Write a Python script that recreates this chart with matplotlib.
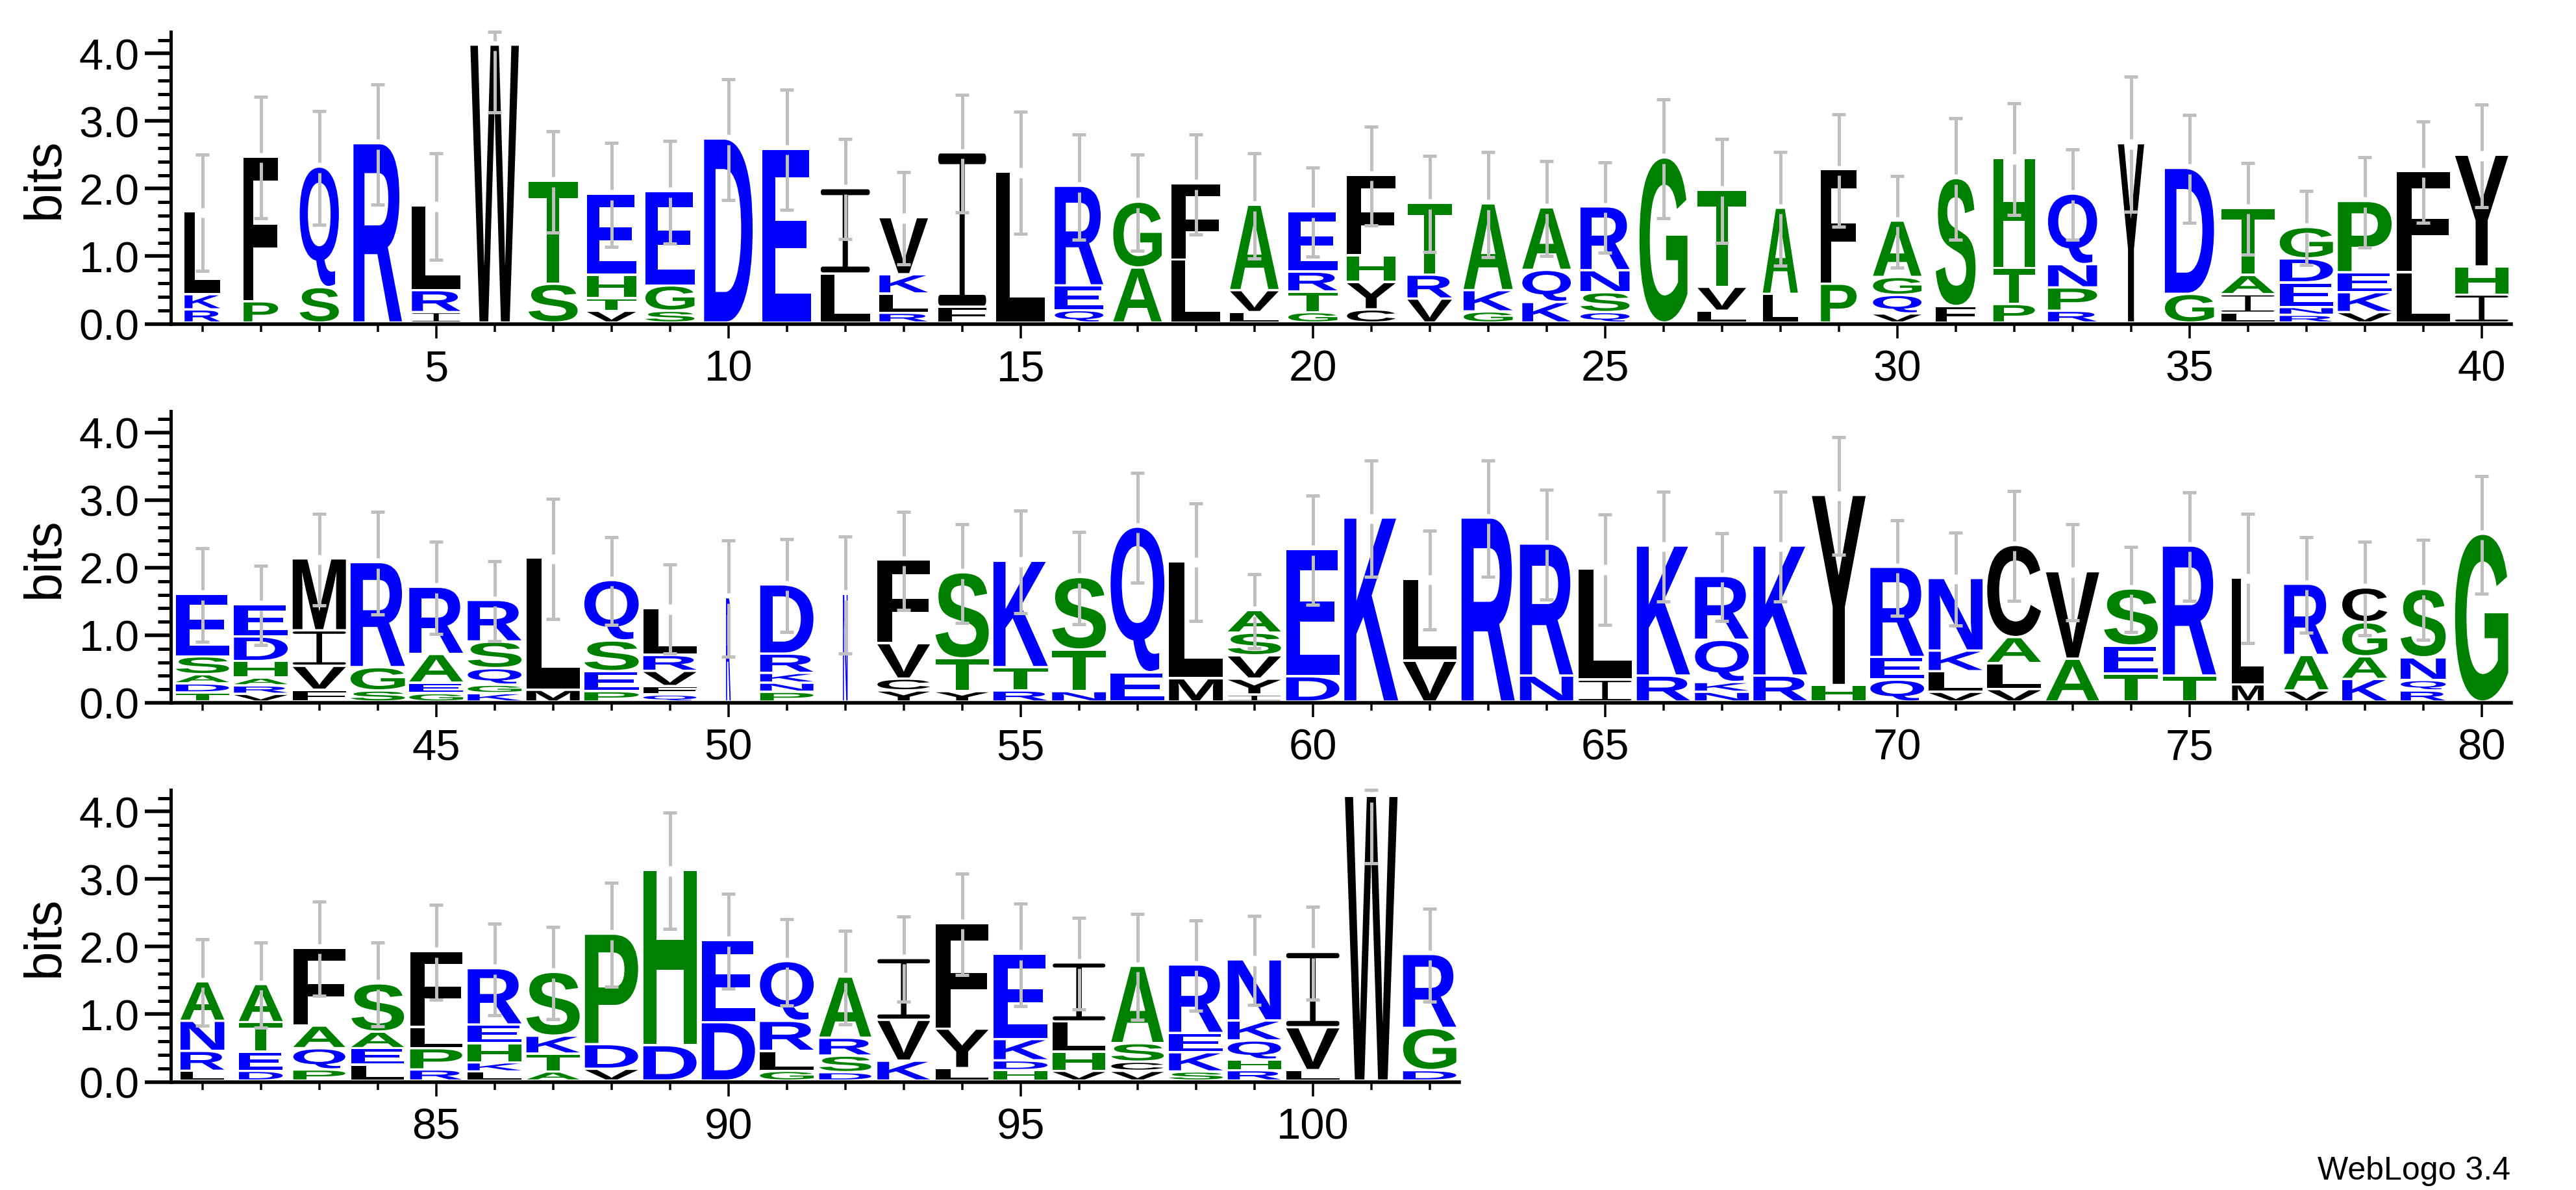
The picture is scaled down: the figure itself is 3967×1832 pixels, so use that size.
import matplotlib
matplotlib.use("Agg")
import matplotlib.pyplot as plt
from matplotlib.font_manager import FontProperties
from matplotlib.patches import PathPatch
from matplotlib.path import Path
from matplotlib.textpath import TextPath
from matplotlib.ticker import MultipleLocator, FormatStrFormatter
from matplotlib.transforms import Affine2D

plt.rcParams['font.family'] = ['Liberation Sans', 'DejaVu Sans']

# letters bottom to top for each position
row1_letters = ["RKL", "PF", "SQ", "R", "IRL", "W", "ST", "VTHE", "SGE", "D",
                "E", "LI", "RLKV", "FI", "L", "QER", "AG", "LF", "LVA", "GTRE",
                "CYHF", "VRT", "GKA", "KQA", "QSNR", "G", "LVT", "LA", "PF", "VQGA",
                "FS", "PTH", "RPNQ", "Y", "GD", "LIAT", "RNEDG", "VKEP", "LF", "IHY"]
row1_heights = [[.16, .19, 1.19], [.28, 2.11], [.49, 1.75], [2.62], [.12, .29, 1.22],
                [4.08], [.54, 1.49], [.14, .15, .31, 1.17], [.14, .34, 1.36], [2.69],
                [2.54], [.69, 1.23], [.11, .25, .25, .81], [.20, 2.25], [2.20],
                [.15, .33, 1.44], [.78, .94], [.90, 1.09], [.12, .29, 1.23], [.12, .27, .26, .86],
                [.16, .37, .36, 1.16], [.32, .32, 1.03], [.13, .28, 1.25], [.27, .44, .89], [.12, .26, .29, .91],
                [2.41], [.14, .32, 1.40], [.39, 1.24], [.54, 1.66], [.10, .24, .23, .80],
                [.21, 1.86], [.24, .50, 1.59], [.14, .31, .31, 1.01], [2.62], [.39, 1.83],
                [.11, .24, .25, .96], [.08, .08, .33, .32, .43], [.12, .26, .26, 1.02], [.71, 1.46], [.38, .38, 1.62]]
row1_widths = [.61, .59, .67, .83, .83, .83, .84, .84, .84, .83,
               .83, .84, .83, .82, .83, .83, .83, .83, .83, .84,
               .83, .76, .84, .83, .84, .82, .83, .60, .61, .83,
               .68, .71, .84, .45, .84, .91, .91, .92, .91, .91]
row1_errors = [.86, .90, .84, .89, .79, .99, .75, .77, .76, .89,
               .89, .74, .68, .87, .90, .78, .71, .74, .78, .66,
               .73, .71, .78, .70, .67, .88, .77, .84, .83, .68,
               .90, .83, .67, 1.00, .80, .68, .55, .67, .75, .76]

row2_letters = ["TDASE", "VRAHDE", "FVIM", "SGR", "GEAR", "KGQSR", "ML", "PESQ", "QFVRL", "R",
                "PNKRD", "N", "YCVF", "YTS", "RTK", "NTS", "EQ", "ML", "IYVSA", "DE",
                "K", "VL", "R", "NR", "IL", "RK", "NKQR", "RK", "HY", "QER",
                "VLKN", "VLAC", "AV", "TES", "TR", "ML", "VAR", "KAGC", "RQNS", "G"]
row2_heights = [[.10, .10, .10, .23, .89], [.08, .09, .08, .21, .33, .44], [.14, .32, .49, 1.03], [.13, .31, 1.52], [.09, .12, .39, .96],
                [.09, .09, .21, .36, .58], [.14, 1.92], [.12, .26, .42, .86], [.07, .09, .19, .20, .66], [1.51],
                [.11, .10, .11, .25, .99], [1.56], [.13, .14, .49, 1.20], [.12, .45, 1.24], [.13, .31, 1.54],
                [.12, .58, 1.04], [.40, 2.12], [.31, 1.70], [.07, .20, .31, .30, .30], [.34, 1.85],
                [2.69], [.57, 1.18], [2.69], [.35, 1.92], [.29, 1.61],
                [.35, 1.89], [.11, .11, .59, .91], [.35, 1.89], [.21, 2.78], [.29, .30, 1.30],
                [.11, .27, .27, 1.04], [.15, .35, .35, 1.33], [.60, 1.26], [.38, .38, .81], [.35, 1.89],
                [.22, 1.55], [.13, .49, 1.02], [.30, .30, .47, .48], [.13, .12, .30, .98], [2.45]]
row2_widths = [.91, .92, .91, .93, .92, .92, .91, .93, .91, .08,
               .91, .08, .90, .91, .93, .92, .92, .92, .91, .91,
               .92, .91, .91, .91, .91, .91, .92, .92, .92, .92,
               .92, .92, .91, .92, .91, .54, .76, .77, .77, .91]
row2_errors = [.69, .59, .68, .76, .68, .59, .89, .65, .66, .86,
               .69, .87, .73, .73, .76, .68, .81, .87, .55, .81,
               .86, .73, .86, .81, .82, .81, .65, .81, .87, .71,
               .69, .81, .71, .63, .80, .96, .71, .69, .74, .87]

row3_letters = ["LRNA", "DETA", "PQAF", "LEAS", "RPLF", "LKHER", "ATKS", "VDP", "DH", "DE",
                "GLRQ", "DSRA", "KVI", "LYF", "HDKE", "VHLI", "VCSA", "SKER", "RHQKN", "LVI",
                "W", "DGR"]
row3_heights = [[.11, .26, .41, .55], [.11, .25, .40, .53], [.13, .28, .30, 1.12], [.20, .21, .21, .68], [.13, .28, .28, 1.09],
                [.10, .10, .25, .24, .80], [.10, .23, .23, .91], [.14, .33, 1.60], [.49, 2.56], [.83, 1.18],
                [.11, .26, .41, .85], [.09, .21, .23, .87], [.26, .57, .88], [.15, .55, 1.53], [.12, .11, .28, 1.23],
                [.11, .25, .41, .84], [.11, .10, .24, 1.11], [.10, .25, .25, .98], [.12, .12, .25, .26, .87], [.12, .60, 1.08],
                [4.18], [.12, .59, 1.06]]
row3_widths = [.75, .75, .89, .90, .89, .92, .91, .91, .91, .91,
               .92, .89, .90, .90, .92, .90, .90, .92, .91, .91,
               .90, .91]
row3_errors = [.64, .63, .70, .62, .70, .68, .68, .77, .86, .70,
               .64, .69, .63, .75, .76, .68, .78, .67, .66, .69,
               .98, .69]

black_letters = "FLIVWMYC"
green_letters = "GSTAPH"
blue_letters = "DEKRQN"

BLUE = '#0000ff'
GREEN = '#008000'
BLACK = '#000000'
GREY = '#bfbfbf'

DPI = 100
W, H = 3967, 1833
BITS_MAX = 4.32
PX_PER_POS = 90.0
BOX_H = 449.3
AXIS_LEFT = 266.7
BASE = 0.036  # letters sit a little above the axis line
GAP = 0.035   # white space between stacked letters
ERR_GAP = 0.075

bold = FontProperties(family='Liberation Sans', weight='bold')


def px(p):  # pixels to points
    return p * 72.0 / DPI


def letter_colour(ch):
    if ch in green_letters:
        return GREEN
    if ch in blue_letters:
        return BLUE
    return BLACK


def i_path():
    # the I of the logo font has thin round ended bars, so it is drawn by hand
    rx, ry, bar, st = 0.045, 0.035, 0.07, 0.053
    verts = [(rx, 0), (1 - rx, 0), (1, 0), (1, ry), (1, bar), (1 - rx, bar),
             (.5 + st, bar), (.5 + st, 1 - bar), (1 - rx, 1 - bar), (1, 1 - bar), (1, 1 - ry), (1, 1), (1 - rx, 1),
             (rx, 1), (0, 1), (0, 1 - ry), (0, 1 - bar), (rx, 1 - bar),
             (.5 - st, 1 - bar), (.5 - st, bar), (rx, bar), (0, bar), (0, ry), (0, 0), (rx, 0), (rx, 0)]
    codes = [Path.MOVETO, Path.LINETO, Path.CURVE3, Path.CURVE3, Path.CURVE3, Path.CURVE3,
             Path.LINETO, Path.LINETO, Path.LINETO, Path.CURVE3, Path.CURVE3, Path.CURVE3, Path.CURVE3,
             Path.LINETO, Path.CURVE3, Path.CURVE3, Path.CURVE3, Path.CURVE3,
             Path.LINETO, Path.LINETO, Path.LINETO, Path.CURVE3, Path.CURVE3, Path.CURVE3, Path.CURVE3, Path.CLOSEPOLY]
    return Path(verts, codes)


def draw_letter(ax, ch, x, y, w, h):
    if ch == 'I':
        p = i_path()
        tr = Affine2D().scale(w, h).translate(x - w / 2, y)
    else:
        p = TextPath((0, 0), ch, size=100, prop=bold)
        bb = p.get_extents()
        tr = (Affine2D().translate(-bb.x0, -bb.y0)
              .scale(w / bb.width, h / bb.height)
              .translate(x - w / 2, y))
    ax.add_patch(PathPatch(p, transform=tr + ax.transData, fc=letter_colour(ch), ec='none', lw=0, zorder=3))


def draw_row(y0, first, letters, heights, widths, errors):
    n = len(letters)
    width_px = n * PX_PER_POS
    ax = fig.add_axes([AXIS_LEFT / W, 1 - y0 / H, width_px / W, BOX_H / H])
    ax.set_xlim(first - 0.5, first + n - 0.5)
    ax.set_ylim(0, BITS_MAX)

    for i in range(n):
        pos = first + i
        y = BASE
        hs = heights[i]
        for ch, h in zip(letters[i], hs):
            draw_letter(ax, ch, pos, y, widths[i], h)
            y += h + GAP
        top = y - GAP
        hi = min(top + errors[i], BITS_MAX)
        lo = top - errors[i]
        # error bar is broken just around the stack top
        ax.vlines(pos, top + ERR_GAP, hi, color=GREY, lw=px(5), zorder=4, clip_on=False, capstyle='butt')
        ax.vlines(pos, lo, top - ERR_GAP, color=GREY, lw=px(5), zorder=4, clip_on=False, capstyle='butt')
        for c in (lo, hi):
            ax.hlines(c, pos - 0.117, pos + 0.117, color=GREY, lw=px(5), zorder=4, clip_on=False, capstyle='butt')

    for s in ['top', 'right']:
        ax.spines[s].set_visible(False)
    ax.spines['left'].set_position(('outward', px(4)))
    ax.spines['left'].set_linewidth(px(5))
    ax.spines['bottom'].set_linewidth(px(5.5))
    ax.spines['bottom'].set_zorder(5)

    ax.yaxis.set_major_locator(MultipleLocator(1.0))
    ax.yaxis.set_minor_locator(MultipleLocator(0.2))
    ax.yaxis.set_major_formatter(FormatStrFormatter('%.1f'))
    ax.xaxis.set_major_locator(MultipleLocator(5))
    ax.xaxis.set_minor_locator(MultipleLocator(1))
    ax.tick_params(axis='y', which='major', length=px(40), width=px(5.5), labelsize=px(67), pad=px(8))
    ax.tick_params(axis='y', which='minor', length=px(20), width=px(5))
    ax.tick_params(axis='x', which='major', length=px(22), width=px(3.5), labelsize=px(67), pad=px(17))
    ax.tick_params(axis='x', which='minor', length=px(12), width=px(3.5))
    ax.patch.set_alpha(0)

    fig.text(69 / W, 1 - (y0 - BOX_H / 2) / H, 'bits', rotation=90, ha='center', va='center', fontsize=px(80))
    return ax


fig = plt.figure(figsize=(W / DPI, H / DPI), dpi=DPI, facecolor='white')

draw_row(499.5, 1, row1_letters, row1_heights, row1_widths, row1_errors)
draw_row(1083.0, 41, row2_letters, row2_heights, row2_widths, row2_errors)
draw_row(1666.5, 81, row3_letters, row3_heights, row3_widths, row3_errors)

fig.text(3866 / W, 1 - 1816 / H, 'WebLogo 3.4', ha='right', va='baseline', fontsize=px(50))

fig.savefig('out.png', dpi=DPI)
